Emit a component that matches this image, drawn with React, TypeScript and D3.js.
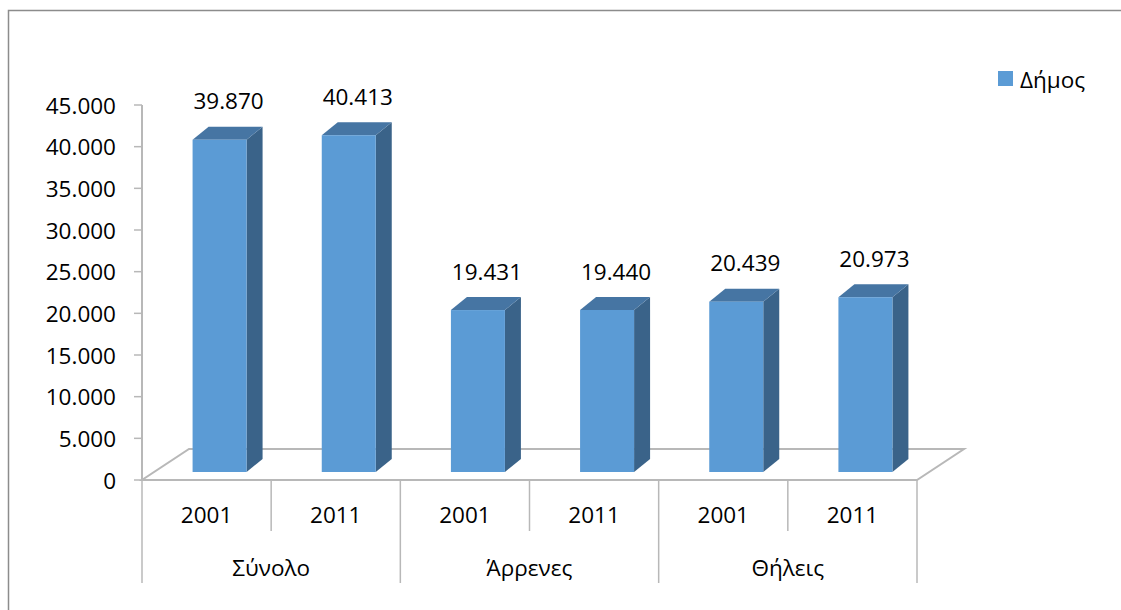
import React from "react";
import * as d3 from "d3";

const groups = ["Σύνολο", "Άρρενες", "Θήλεις"];
const years = ["2001", "2011"];
const values = [39870, 40413, 19431, 19440, 20439, 20973];
const yTicks = [0, 5000, 10000, 15000, 20000, 25000, 30000, 35000, 40000, 45000];
const seriesName = "Δήμος";

const W = 1121;
const H = 610;
const FONT = "'Open Sans', 'Noto Sans', sans-serif";
const FS = 22.5;

const locale = d3.formatLocale({ decimal: ",", thousands: ".", grouping: [3], currency: ["", "€"] });
const fmt = locale.format(",d");

export default function App() {
  const left = 142;
  const right = 917;
  const y = d3.scaleLinear().domain([0, 45000]).range([480, 105]);
  const cats = values.map((_, i) => i);
  const x = d3.scaleBand<number>().domain(cats).range([left, right]).padding(0);
  const bw = x.bandwidth();

  // floor depth
  const fdx = 47;
  const fdy = -31;
  // bar geometry
  const barW = 54;
  const barShiftX = 13;
  const barShiftY = -8;
  const bdx = 16;
  const bdy = -13;

  const y0 = y(0);
  const axisColor = "#b8b8b8";

  return (
    <svg width={W} height={H} style={{ display: "block", position: "absolute", left: 0, top: 0 }}>
      <rect x={0} y={0} width={W} height={H} fill="#ffffff" />
      <rect x={8.5} y={10.5} width={W + 20} height={H + 20} fill="none" stroke="#8c8c8c" strokeWidth={1.5} />

      {/* floor */}
      <polygon
        points={`${left},${y0} ${right},${y0} ${right + fdx},${y0 + fdy} ${left + fdx},${y0 + fdy}`}
        fill="none"
        stroke={axisColor}
        strokeWidth={2}
      />

      {/* y axis */}
      <line x1={left} x2={left} y1={y(45000)} y2={y0} stroke={axisColor} strokeWidth={2} />
      {yTicks.map((t) => (
        <g key={t}>
          <line x1={left - 8} x2={left} y1={y(t)} y2={y(t)} stroke={axisColor} strokeWidth={1.5} />
          <text
            x={116}
            y={y(t)}
            textAnchor="end"
            dominantBaseline="central"
            fontFamily={FONT}
            fontSize={FS}
            fill="#000"
          >
            {fmt(t)}
          </text>
        </g>
      ))}

      {/* x axis ticks */}
      {cats.map((i) => {
        const bx = x(i)!;
        const isGroup = i % years.length === 0;
        return (
          <line
            key={"t" + i}
            x1={bx}
            x2={bx}
            y1={y0}
            y2={isGroup ? 583 : 531}
            stroke={axisColor}
            strokeWidth={1.5}
          />
        );
      })}
      <line x1={right} x2={right} y1={y0} y2={583} stroke={axisColor} strokeWidth={1.5} />

      {/* year labels */}
      {cats.map((i) => (
        <text
          key={"yl" + i}
          x={x(i)! + bw / 2}
          y={514}
          textAnchor="middle"
          dominantBaseline="central"
          fontFamily={FONT}
          fontSize={FS}
          fill="#000"
        >
          {years[i % years.length]}
        </text>
      ))}
      {/* group labels */}
      {groups.map((g, gi) => (
        <text
          key={g}
          x={x(gi * years.length)! + bw}
          y={567}
          textAnchor="middle"
          dominantBaseline="central"
          fontFamily={FONT}
          fontSize={FS}
          fill="#000"
        >
          {g}
        </text>
      ))}

      {/* bars */}
      {values.map((v, i) => {
        const cx = x(i)! + bw / 2 + barShiftX;
        const l = cx - barW / 2;
        const r = cx + barW / 2;
        const top = y(v) + barShiftY;
        const bot = y0 + barShiftY;
        return (
          <g key={"b" + i}>
            <polygon
              points={`${r},${top} ${r + bdx},${top + bdy} ${r + bdx},${bot + bdy} ${r},${bot}`}
              fill="#3a6389"
            />
            <polygon
              points={`${l},${top} ${r},${top} ${r + bdx},${top + bdy} ${l + bdx},${top + bdy}`}
              fill="#4675a3"
            />
            <rect x={l} y={top} width={barW} height={bot - top} fill="#5b9bd5" />
            <text
              x={cx + 9}
              y={top + bdy - 26}
              textAnchor="middle"
              dominantBaseline="central"
              fontFamily={FONT}
              fontSize={FS}
              fill="#000"
            >
              {fmt(v)}
            </text>
          </g>
        );
      })}

      {/* legend */}
      <rect x={998} y={71} width={15} height={15} fill="#5b9bd5" />
      <text x={1020} y={79} dominantBaseline="central" fontFamily={FONT} fontSize={FS} fill="#000">
        {seriesName}
      </text>
    </svg>
  );
}
